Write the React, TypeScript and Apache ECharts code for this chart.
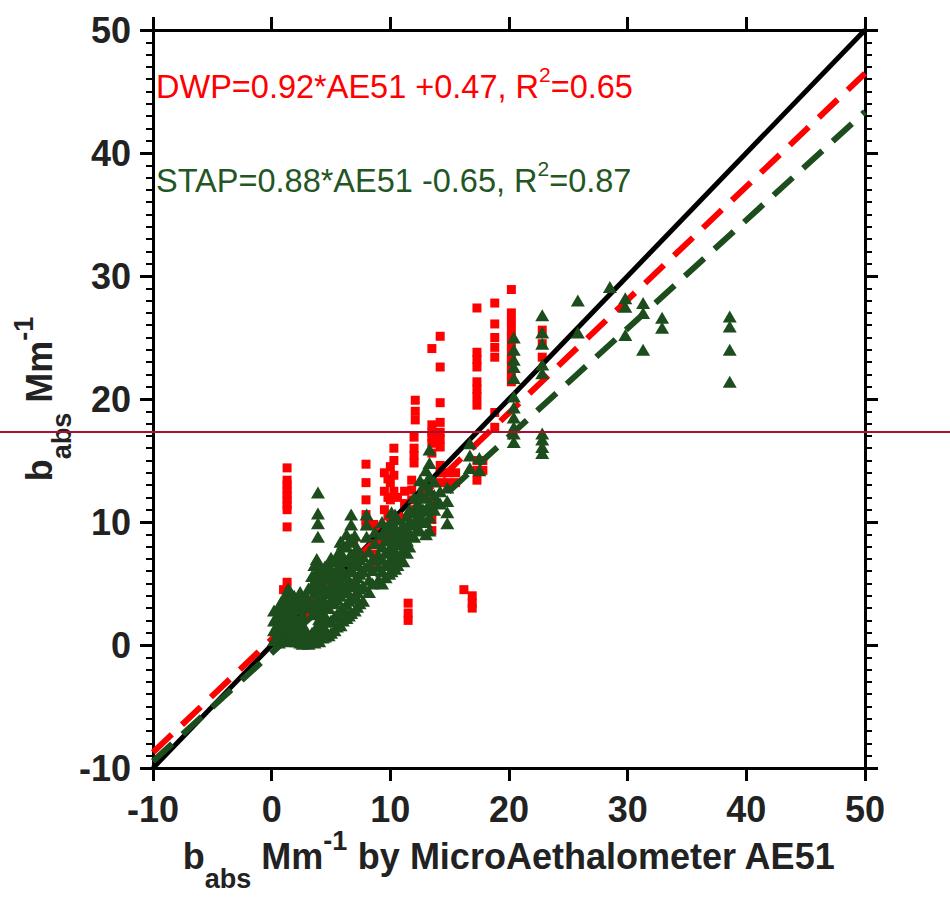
import React, { useEffect, useRef } from "react";
import * as echarts from "echarts";

const axisMin = -10;
const axisMax = 50;
const axisStep = 10;

const oneToOneLine = [[-10, -10], [50, 50]];
const dwpFitLine = [[-10, -8.73], [50, 46.47]];
const stapFitLine = [[-10, -9.45], [50, 43.35]];

const dwpEquation = "DWP=0.92*AE51 +0.47, R";
const dwpR2 = "=0.65";
const stapEquation = "STAP=0.88*AE51 -0.65, R";
const stapR2 = "=0.87";

const dwpPoints = [
  [1.3, 14.4], [1.3, 13.4], [1.3, 13.0], [1.3, 12.6], [1.3, 12.2], [1.3, 11.8], [1.3, 11.4],
  [1.3, 11.0], [1.3, 9.6], [1.3, 5.1],
  [1.0, 4.5], [1.2, 3.6], [1.0, 2.6], [1.4, 1.6], [0.9, 0.8], [2.0, 1.5], [3.0, 2.5],
  [4.0, 4.0], [5.0, 5.0], [5.9, 6.8], [6.0, 5.5], [6.8, 7.2], [6.9, 8.3], [7.2, 5.5], [7.2, 4.5],
  [7.95, 14.7], [7.95, 13.2], [7.95, 11.8], [7.95, 10.6], [7.95, 10.1], [7.95, 9.7],
  [8.6, 9.8], [8.6, 8.6], [8.6, 7.4], [8.6, 6.3], [9.2, 9.5], [9.2, 8.3],
  [9.5, 14.0], [9.5, 12.5], [9.5, 11.0], [9.8, 13.5], [9.8, 12.0], [9.8, 10.5], [9.8, 9.0],
  [10.0, 14.5], [10.0, 13.2], [10.0, 11.8], [10.0, 10.4],
  [10.3, 16.0], [10.3, 15.0], [10.3, 13.8], [10.3, 12.5],
  [10.6, 12.0], [10.6, 10.2], [10.6, 8.8], [11.2, 12.5], [11.2, 11.5],
  [11.8, 13.4], [11.8, 12.6], [11.8, 11.8], [11.8, 11.0],
  [12.0, 16.9], [12.0, 16.0], [12.0, 15.4], [12.0, 14.8],
  [12.1, 19.9], [12.1, 19.0], [12.1, 18.3],
  [11.5, 3.4], [11.5, 2.6], [11.5, 2.0],
  [13.5, 24.1], [13.5, 17.9], [13.5, 17.3], [13.5, 16.9], [13.5, 16.4], [13.5, 15.6],
  [13.5, 11.8], [13.5, 11.0], [13.5, 10.2], [13.5, 9.3],
  [14.2, 25.1], [14.2, 22.6], [14.2, 19.7], [14.2, 18.1], [14.2, 17.3], [14.2, 16.7], [14.2, 16.1],
  [14.2, 14.6], [14.2, 14.0], [14.2, 13.2],
  [14.8, 14.0], [14.8, 13.2], [15.5, 14.0], [15.5, 13.2],
  [16.2, 4.5], [16.9, 4.0], [16.9, 3.4], [16.9, 3.0],
  [17.3, 27.4], [17.3, 23.8], [17.3, 23.2], [17.3, 22.6], [17.3, 21.4], [17.3, 20.8], [17.3, 20.2], [17.3, 19.5],
  [17.3, 15.0], [17.3, 14.2], [17.3, 13.4], [17.8, 15.0], [17.8, 14.2],
  [18.8, 27.8], [18.8, 26.1], [18.8, 25.0], [18.8, 24.2], [18.8, 23.4], [18.8, 18.9], [18.8, 17.7],
  [20.2, 28.9], [20.2, 27.0], [20.2, 26.3], [20.2, 25.6], [20.2, 25.0], [20.2, 24.4],
  [20.2, 23.8], [20.2, 23.2], [20.2, 22.6], [20.2, 22.0], [20.2, 21.4],
  [22.8, 25.6], [22.8, 24.5], [22.8, 23.4],
];

const stapPoints = [
  [0.2, 0.4], [0.2, 1.2], [0.2, 2.0], [0.2, 2.8],
  [0.4, 0.6], [0.4, 1.5], [0.4, 2.3],
  [0.6, 0.2], [0.6, 0.9], [0.6, 1.7], [0.6, 2.5], [0.6, 3.1],
  [0.8, 0.4], [0.8, 1.2], [0.8, 2.0], [0.8, 2.8], [0.8, 3.5],
  [1.0, 0.5], [1.0, 1.3], [1.0, 2.2], [1.0, 3.0], [1.0, 3.8],
  [1.2, 0.6], [1.2, 1.5], [1.2, 2.4], [1.2, 3.3], [1.2, 4.1],
  [1.4, 0.3], [1.4, 1.1], [1.4, 1.9], [1.4, 2.8], [1.4, 3.7], [1.4, 4.6],
  [1.6, 0.5], [1.6, 1.4], [1.6, 2.3], [1.6, 3.2], [1.6, 4.3],
  [1.9, 0.6], [1.9, 1.5], [1.9, 2.4], [1.9, 3.3], [1.9, 4.0],
  [2.1, 0.3], [2.1, 1.2], [2.1, 2.1], [2.1, 3.0], [2.1, 3.7],
  [2.4, 0.2], [2.4, 1.0], [2.4, 1.9], [2.4, 2.9], [2.4, 3.8], [2.4, 4.3],
  [2.6, 0.1], [2.6, 0.6], [2.6, 1.5], [2.6, 2.4], [2.6, 3.4],
  [2.9, 0.4], [2.9, 1.2], [2.9, 3.1], [2.9, 4.0],
  [3.1, 0.1], [3.1, 0.7], [3.1, 3.6], [3.1, 4.6],
  [3.4, 0.3], [3.4, 1.0], [3.4, 3.3], [3.4, 4.6], [3.4, 5.6],
  [3.6, 0.2], [3.6, 0.8], [3.6, 3.0], [3.6, 4.2], [3.6, 5.2], [3.6, 6.5],
  [3.8, 0.5], [3.8, 1.5], [3.8, 2.5], [3.8, 3.6], [3.8, 4.8], [3.8, 6.0], [3.8, 7.0],
  [3.9, 8.8], [3.9, 9.9], [3.9, 10.7], [3.9, 12.4],
  [4.0, 0.3], [4.0, 1.1], [4.0, 2.1], [4.0, 3.2], [4.0, 4.3], [4.0, 5.4], [4.0, 6.6],
  [4.3, 0.6], [4.3, 1.6], [4.3, 2.7], [4.3, 3.8], [4.3, 4.9], [4.3, 5.9],
  [4.5, 0.7], [4.5, 1.3], [4.5, 2.3], [4.5, 3.3], [4.5, 4.4], [4.5, 5.6], [4.5, 6.4],
  [4.8, 0.8], [4.8, 1.9], [4.8, 3.0], [4.8, 4.2], [4.8, 5.4], [4.8, 6.5],
  [5.0, 1.0], [5.0, 2.0], [5.0, 3.7], [5.0, 4.9], [5.0, 6.1], [5.0, 7.1],
  [5.3, 1.2], [5.3, 2.3], [5.3, 3.4], [5.3, 4.5], [5.3, 5.7], [5.3, 6.8],
  [5.5, 1.5], [5.5, 2.5], [5.5, 3.7], [5.5, 5.0], [5.5, 6.2], [5.5, 7.3],
  [5.8, 1.6], [5.8, 2.8], [5.8, 4.0], [5.8, 5.2], [5.8, 6.4], [5.8, 7.6], [5.8, 8.4],
  [6.0, 2.0], [6.0, 3.0], [6.0, 4.3], [6.0, 5.9], [6.0, 7.2], [6.0, 8.2],
  [6.3, 2.2], [6.3, 3.3], [6.3, 4.5], [6.3, 5.6], [6.3, 6.8], [6.3, 8.0], [6.3, 9.0],
  [6.5, 2.4], [6.5, 3.6], [6.5, 4.8], [6.5, 6.0], [6.5, 7.1], [6.5, 8.4],
  [6.7, 2.6], [6.7, 3.8], [6.7, 5.0], [6.7, 6.2], [6.7, 7.4], [6.7, 8.6], [6.7, 9.8], [6.7, 10.6],
  [7.0, 2.8], [7.0, 4.0], [7.0, 5.2], [7.0, 6.5], [7.0, 7.6], [7.0, 8.9],
  [7.2, 3.1], [7.2, 4.3], [7.2, 5.5], [7.2, 6.7], [7.2, 7.9],
  [7.4, 3.4], [7.4, 4.6], [7.4, 5.8], [7.4, 7.0],
  [7.7, 3.6], [7.7, 4.8], [7.7, 6.0], [7.7, 7.2],
  [8.0, 8.8], [8.0, 9.8], [8.0, 10.6],
  [8.2, 4.3], [8.2, 5.3], [8.2, 6.4], [8.2, 7.6],
  [8.5, 5.0], [8.5, 6.1], [8.5, 7.0],
  [8.7, 8.3], [8.7, 9.2],
  [9.0, 5.3], [9.0, 6.4], [9.0, 7.3],
  [9.3, 5.0], [9.3, 6.0], [9.3, 7.0], [9.3, 8.0], [9.3, 9.0], [9.3, 10.0],
  [9.6, 5.5], [9.6, 6.5], [9.6, 7.5], [9.6, 8.5], [9.6, 9.5],
  [9.9, 5.8], [9.9, 6.8], [9.9, 7.8], [9.9, 8.8], [9.9, 9.8],
  [10.1, 6.0], [10.1, 7.0], [10.1, 8.0], [10.1, 9.0], [10.1, 10.0], [10.1, 10.8],
  [10.4, 6.2], [10.4, 7.5], [10.4, 8.6], [10.4, 9.6], [10.4, 10.6],
  [10.6, 6.5], [10.6, 7.3], [10.6, 8.2], [10.6, 9.2], [10.6, 10.2],
  [10.9, 7.0], [10.9, 8.3], [10.9, 9.4],
  [11.1, 6.8], [11.1, 7.8], [11.1, 8.8], [11.1, 9.8],
  [11.4, 7.5], [11.4, 8.5], [11.4, 9.5], [11.4, 10.5],
  [11.6, 8.0], [11.6, 9.0], [11.6, 10.0], [11.6, 11.0],
  [12.0, 8.8], [12.0, 9.8], [12.0, 10.8], [12.0, 12.0],
  [12.3, 9.5], [12.3, 10.5], [12.3, 11.5],
  [12.5, 9.3], [12.5, 10.3], [12.5, 11.3], [12.5, 12.3], [12.5, 13.4],
  [12.8, 10.0], [12.8, 11.0], [12.8, 12.0], [12.8, 13.0],
  [13.0, 9.0], [13.0, 10.0], [13.0, 11.0], [13.0, 12.0], [13.0, 13.0], [13.0, 14.2],
  [13.3, 9.3], [13.3, 10.4], [13.3, 11.5], [13.3, 12.6], [13.3, 13.7], [13.3, 14.8], [13.3, 15.9],
  [13.7, 11.0], [13.7, 12.2], [13.7, 13.3], [14.2, 11.5], [14.2, 12.5],
  [14.8, 9.9], [14.8, 10.8], [14.8, 11.7], [14.8, 12.8],
  [16.7, 14.4], [16.7, 15.4], [16.7, 16.4], [17.5, 14.2], [17.5, 15.2],
  [20.4, 16.5], [20.4, 17.2], [20.4, 17.7], [20.4, 18.5], [20.4, 19.3], [20.4, 20.2],
  [20.4, 21.7], [20.4, 22.6], [20.4, 23.2], [20.4, 24.0], [20.4, 25.0],
  [22.8, 26.8], [22.8, 25.4], [22.8, 24.5], [22.8, 22.8], [22.8, 22.1],
  [22.8, 17.2], [22.8, 16.7], [22.8, 16.1], [22.8, 15.6],
  [25.8, 28.0], [25.8, 25.4], [28.5, 29.1],
  [29.8, 28.2], [29.8, 27.5], [29.8, 25.2],
  [31.3, 27.8], [31.3, 27.0], [31.3, 24.0],
  [32.9, 26.6], [32.9, 25.8],
  [38.6, 26.7], [38.6, 25.9], [38.6, 24.0], [38.6, 21.4],
];

const RED = "#ff0000";
const GREEN = "#1d4d1d";
const GREEN_TEXT = "#245624";
const FONT = "'Liberation Sans', Arial, Helvetica, sans-serif";

const titleRich = {
  m: { fontSize: 36, fontWeight: "bold", fontFamily: FONT, color: "#222", lineHeight: 72, verticalAlign: "middle" },
  sub: { fontSize: 27, fontWeight: "bold", fontFamily: FONT, color: "#222", verticalAlign: "bottom" },
  sup: { fontSize: 27, fontWeight: "bold", fontFamily: FONT, color: "#222", verticalAlign: "top", padding: [7, 0, 0, 0] },
};

const tickLabel = { fontSize: 36, fontWeight: "bold", fontFamily: FONT, color: "#222" };
const axisLineStyle = { color: "#000", width: 3 };

function makeX(position: string, showLabel: boolean, withName: boolean) {
  return {
    type: "value",
    position,
    min: axisMin,
    max: axisMax,
    interval: axisStep,
    axisLine: { show: true, onZero: false, lineStyle: axisLineStyle },
    axisTick: { show: true, inside: false, length: 13, lineStyle: { color: "#000", width: 3 } },
    minorTick: { show: false },
    axisLabel: { show: showLabel, margin: 23, ...tickLabel },
    splitLine: { show: false },
    name: withName ? "{m|b}{sub|abs}{m| Mm}{sup|-1}{m| by MicroAethalometer AE51}" : "",
    nameLocation: "middle",
    nameGap: 52,
    nameMoveOverlap: false,
    nameTextStyle: { rich: titleRich },
  };
}

function makeY(position: string, showLabel: boolean, withName: boolean) {
  return {
    type: "value",
    position,
    min: axisMin,
    max: axisMax,
    interval: axisStep,
    axisLine: { show: true, onZero: false, lineStyle: axisLineStyle },
    axisTick: { show: true, inside: false, length: 13, lineStyle: { color: "#000", width: 3 } },
    minorTick: { show: true, splitNumber: 10, length: 7, lineStyle: { color: "#000", width: 2 } },
    axisLabel: { show: showLabel, margin: 22, ...tickLabel },
    splitLine: { show: false },
    minorSplitLine: { show: false },
    name: withName ? "{m|b}{sub|abs}{m| Mm}{sup|-1}" : "",
    nameLocation: "middle",
    nameGap: 78,
    nameRotate: 90,
    nameMoveOverlap: false,
    nameTextStyle: { rich: titleRich },
  };
}

export default function App() {
  const ref = useRef<HTMLDivElement>(null);
  useEffect(() => {
    if (!ref.current) return;
    const chart = echarts.init(ref.current, null, { renderer: "svg" });
    const option = {
      animation: false,
      backgroundColor: "#ffffff",
      grid: {
        left: 153,
        top: 30,
        width: 712,
        height: 738,
        containLabel: false,
        outerBoundsMode: "none",
      },
      xAxis: [makeX("bottom", true, true), makeX("top", false, false)],
      yAxis: [makeY("left", true, true), makeY("right", false, false)],
      series: [
        {
          name: "DWP",
          type: "scatter",
          data: dwpPoints,
          symbol: "rect",
          symbolSize: [9, 9],
          itemStyle: { color: RED, opacity: 1 },
          z: 2,
        },
        {
          name: "1:1",
          type: "line",
          data: oneToOneLine,
          symbol: "none",
          lineStyle: { color: "#000", width: 5 },
          z: 3,
        },
        {
          name: "DWP fit",
          type: "line",
          data: dwpFitLine,
          symbol: "none",
          lineStyle: { color: RED, width: 6, type: [26, 14], cap: "butt" },
          z: 3,
        },
        {
          name: "STAP fit",
          type: "line",
          data: stapFitLine,
          symbol: "none",
          lineStyle: { color: GREEN, width: 6, type: [26, 14], cap: "butt" },
          z: 3,
        },
        {
          name: "STAP",
          type: "scatter",
          data: stapPoints,
          symbol: "triangle",
          symbolSize: [14, 12],
          itemStyle: { color: GREEN, opacity: 1 },
          z: 4,
        },
      ],
      graphic: [
        {
          type: "text",
          left: 156,
          top: 64,
          z: 10,
          style: {
            text: `{m|${dwpEquation}}{s|2}{m|${dwpR2}}`,
            rich: {
              m: { fontSize: 32.5, fontFamily: FONT, fill: RED, lineHeight: 46, verticalAlign: "middle" },
              s: { fontSize: 21, fontFamily: FONT, fill: RED, lineHeight: 25, verticalAlign: "top" },
            },
          },
        },
        {
          type: "text",
          left: 156,
          top: 158,
          z: 10,
          style: {
            text: `{m|${stapEquation}}{s|2}{m|${stapR2}}`,
            rich: {
              m: { fontSize: 32.5, fontFamily: FONT, fill: GREEN_TEXT, lineHeight: 46, verticalAlign: "middle" },
              s: { fontSize: 21, fontFamily: FONT, fill: GREEN_TEXT, lineHeight: 25, verticalAlign: "top" },
            },
          },
        },
        {
          type: "line",
          z: 100,
          shape: { x1: 0, y1: 432, x2: 950, y2: 432 },
          style: { stroke: "#a8102f", lineWidth: 2 },
        },
      ],
    };
    chart.setOption(option as any);
    return () => chart.dispose();
  }, []);
  return (
    <div
      ref={ref}
      style={{ position: "absolute", left: 0, top: 0, width: 950, height: 900, background: "#fff" }}
    />
  );
}
